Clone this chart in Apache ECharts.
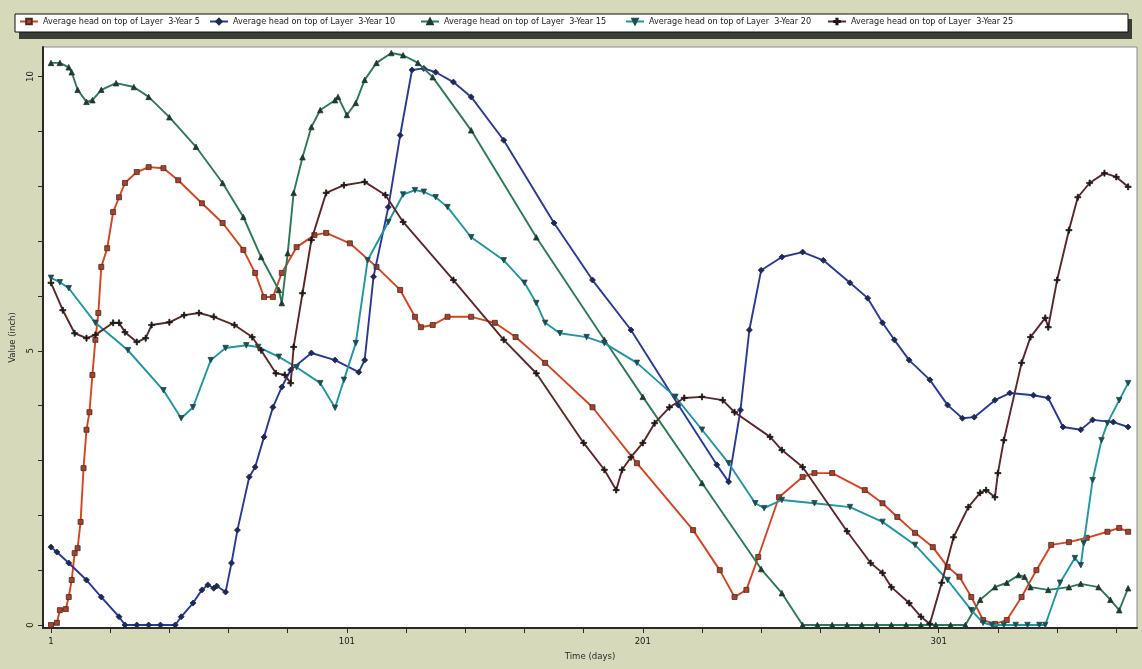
<!DOCTYPE html>
<html>
<head>
<meta charset="utf-8">
<script src="https://cdn.jsdelivr.net/npm/echarts@6/dist/echarts.min.js"></script>
<style>
  html, body { margin: 0; padding: 0; background: #d6d9ba; }
  #chart { width: 1142px; height: 669px; }
</style>
</head>
<body>
<div id="chart"></div>
<script>
// ---- Data ----
const seriesNames = [
  'Average head on top of Layer  3-Year 5',
  'Average head on top of Layer  3-Year 10',
  'Average head on top of Layer  3-Year 15',
  'Average head on top of Layer  3-Year 20',
  'Average head on top of Layer  3-Year 25'
];

const year5Days = [1,3,4,6,7,8,9,10,11,12,13,14,15,16,17,18,20,22,24,26,30,34,39,44,52,59,66,70,73,76,79,84,90,94,102,111,119,124,126,130,135,143,151,158,168,184,199,218,227,232,236,240,247,255,259,265,276,282,287,293,299,304,308,312,316,320,324,329,334,339,345,351,358,362,365];
const year5Values = [0,0.04,0.27,0.29,0.51,0.82,1.31,1.4,1.88,2.86,3.56,3.88,4.56,5.2,5.69,6.53,6.87,7.53,7.8,8.06,8.26,8.35,8.33,8.11,7.69,7.33,6.84,6.42,5.98,5.98,6.42,6.89,7.11,7.15,6.96,6.53,6.11,5.62,5.43,5.47,5.62,5.62,5.51,5.25,4.78,3.97,2.95,1.73,1.0,0.51,0.64,1.24,2.33,2.7,2.77,2.77,2.46,2.22,1.97,1.68,1.42,1.06,0.88,0.51,0.09,0.02,0.09,0.51,1.0,1.46,1.51,1.59,1.7,1.77,1.7];

const year10Days = [1,3,7,13,18,24,26,30,34,38,43,45,49,52,54,56,57,60,62,64,68,70,73,76,79,82,89,97,105,107,110,115,119,123,127,131,137,143,154,171,184,197,213,226,230,234,237,241,248,255,262,271,277,282,286,291,298,304,309,313,320,325,333,338,343,349,353,360,365];
const year10Values = [1.42,1.33,1.13,0.82,0.51,0.15,0,0,0,0,0,0.15,0.4,0.64,0.73,0.67,0.71,0.6,1.13,1.73,2.7,2.88,3.43,3.97,4.34,4.65,4.96,4.83,4.61,4.83,6.35,7.62,8.93,10.12,10.15,10.08,9.9,9.63,8.84,7.33,6.29,5.38,4.01,2.92,2.61,3.92,5.38,6.47,6.71,6.8,6.65,6.24,5.96,5.51,5.2,4.83,4.47,4.01,3.77,3.79,4.1,4.23,4.19,4.14,3.61,3.56,3.74,3.7,3.61];

const year15Days = [1,4,7,8,10,13,15,18,23,29,34,41,50,59,66,72,78,79,81,83,86,89,92,97,98,101,104,107,111,116,120,125,130,143,165,188,201,221,241,248,255,260,265,270,275,280,285,290,295,300,305,310,315,320,324,328,330,332,338,345,349,355,359,362,365];
const year15Values = [10.25,10.25,10.17,10.08,9.76,9.54,9.57,9.76,9.88,9.81,9.63,9.26,8.72,8.06,7.44,6.71,6.11,5.87,6.78,7.88,8.53,9.08,9.39,9.57,9.63,9.3,9.52,9.94,10.25,10.43,10.39,10.25,9.99,9.02,7.07,5.2,4.16,2.59,1.02,0.58,0,0,0,0,0,0,0,0,0,0,0,0,0.46,0.69,0.77,0.91,0.88,0.69,0.64,0.69,0.75,0.69,0.46,0.27,0.67];

const year20Days = [1,4,7,16,27,39,45,49,55,60,67,71,78,84,92,97,100,104,108,115,120,124,127,131,135,143,154,161,165,168,173,182,188,199,212,221,230,239,242,248,259,271,282,293,304,312,316,319,323,327,331,335,337,342,347,349,350,353,356,358,362,365];
const year20Values = [6.33,6.25,6.14,5.51,5.01,4.28,3.77,3.97,4.83,5.05,5.1,5.07,4.89,4.7,4.41,3.96,4.47,5.14,6.65,7.35,7.85,7.93,7.9,7.8,7.62,7.07,6.65,6.24,5.87,5.51,5.32,5.25,5.14,4.78,4.16,3.56,2.95,2.22,2.13,2.28,2.22,2.15,1.88,1.46,0.82,0.27,0.04,0,0,0,0,0,0,0.77,1.22,1.09,1.49,2.64,3.37,3.68,4.1,4.41];

const year25Days = [1,5,9,13,16,22,24,26,30,33,35,41,46,51,56,63,69,72,77,80,82,83,86,89,94,100,107,114,120,137,154,165,181,188,192,194,197,201,205,210,215,221,228,232,244,248,255,270,278,282,285,291,295,298,302,306,311,315,317,320,321,323,329,332,337,338,341,345,348,352,357,361,365];
const year25Values = [6.24,5.74,5.32,5.23,5.29,5.51,5.51,5.34,5.16,5.23,5.47,5.52,5.65,5.69,5.62,5.47,5.25,5.01,4.59,4.56,4.41,5.07,6.05,7.02,7.88,8.02,8.08,7.84,7.35,6.29,5.2,4.59,3.32,2.83,2.46,2.83,3.06,3.32,3.68,3.97,4.14,4.16,4.1,3.88,3.43,3.19,2.88,1.71,1.13,0.95,0.69,0.4,0.15,0.02,0.77,1.6,2.15,2.41,2.46,2.33,2.77,3.37,4.78,5.25,5.6,5.43,6.29,7.2,7.8,8.06,8.24,8.17,7.99];

const xTickDays = [1,21,41,61,81,101,121,141,161,181,201,221,241,261,281,301,321,341,361];
const xLabelDays = [1,101,201,301];
const yTickValues = [0,1,2,3,4,5,6,7,8,9,10];
const yLabelValues = [0,5,10];

// ---- Styling ----
const FONT = '"Liberation Sans Narrow", "Arial Narrow", "DejaVu Sans Condensed", "Liberation Sans", sans-serif';
const pair = (d, v) => d.map((x, i) => [x, v[i]]);

const styles = [
  { line: '#d8431f', fill: '#a8422c', border: '#4a2a20', symbol: 'rect', size: 5 },
  { line: '#28399a', fill: '#1c2a55', border: '#1c2a55', symbol: 'diamond', size: 6 },
  { line: '#2c7a55', fill: '#1f3a33', border: '#1f3a33', symbol: 'triangle', size: 5.5 },
  { line: '#1d96a6', fill: '#1f4d50', border: '#1f4d50', symbol: 'path://M0,0L10,0L5,9Z', size: 5.5 },
  { line: '#5e2626', fill: '#1a1a1a', border: '#1a1a1a', symbol: 'path://M4,0H6V4H10V6H6V10H4V6H0V4H4Z', size: 6 }
];
const datasets = [
  pair(year5Days, year5Values),
  pair(year10Days, year10Values),
  pair(year15Days, year15Values),
  pair(year20Days, year20Values),
  pair(year25Days, year25Values)
];

const legendLefts = [19, 209, 420, 625, 827];

const chart = echarts.init(document.getElementById('chart'), null, { renderer: 'canvas' });
const option = {
  backgroundColor: '#d6d9ba',
  animation: false,
  graphic: [
    { type: 'rect', z: 1, shape: { x: 19, y: 19, width: 1113, height: 20 }, style: { fill: '#3b3d38' } },
    { type: 'rect', z: 2, shape: { x: 15, y: 14, width: 1113, height: 18 }, style: { fill: '#ffffff', stroke: '#111', lineWidth: 1 } }
  ],
  legend: seriesNames.map((n, i) => ({
    data: [n],
    left: legendLefts[i],
    top: 17,
    padding: 0,
    itemWidth: 18,
    itemHeight: 7,
    itemGap: 0,
    z: 10,
    selectedMode: false,
    textStyle: { fontFamily: FONT, fontSize: 9, color: '#1a1a1a' }
  })),
  grid: {
    left: 37, right: 5, top: 47, bottom: 41,
    show: true, backgroundColor: '#ffffff', borderColor: '#8a8a8a', borderWidth: 1
  },
  xAxis: {
    type: 'value', min: -1.7, max: 368,
    name: 'Time (days)', nameLocation: 'middle', nameGap: 22,
    nameTextStyle: { fontFamily: FONT, fontSize: 9.5, color: '#2a2a2a' },
    axisLine: { show: true, onZero: false, lineStyle: { color: '#2a2a2a', width: 2 } },
    axisTick: { show: true, customValues: xTickDays, length: 5, lineStyle: { color: '#2a2a2a', width: 1 } },
    axisLabel: { customValues: xLabelDays, fontFamily: FONT, fontSize: 9.5, color: '#1a1a1a', margin: 9 },
    splitLine: { show: false }
  },
  yAxis: {
    type: 'value', min: -0.055, max: 10.54,
    name: 'Value (inch)', nameLocation: 'middle', nameGap: 25, nameRotate: 90,
    nameTextStyle: { fontFamily: FONT, fontSize: 9.5, color: '#2a2a2a' },
    axisLine: { show: true, onZero: false, lineStyle: { color: '#2a2a2a', width: 2 } },
    axisTick: { show: true, customValues: yTickValues, length: 5, lineStyle: { color: '#2a2a2a', width: 1 } },
    axisLabel: { customValues: yLabelValues, rotate: 90, fontFamily: FONT, fontSize: 9.5, color: '#1a1a1a', margin: 7 },
    splitLine: { show: false }
  },
  series: seriesNames.map((n, i) => ({
    type: 'line',
    name: n,
    data: datasets[i],
    symbol: styles[i].symbol,
    symbolSize: styles[i].size,
    showAllSymbol: true,
    clip: true,
    lineStyle: { color: styles[i].line, width: 1.9 },
    itemStyle: { color: styles[i].fill, borderColor: styles[i].border, borderWidth: 0.8 },
    emphasis: { disabled: true },
    z: 3 + i
  }))
};
chart.setOption(option);
</script>
</body>
</html>
